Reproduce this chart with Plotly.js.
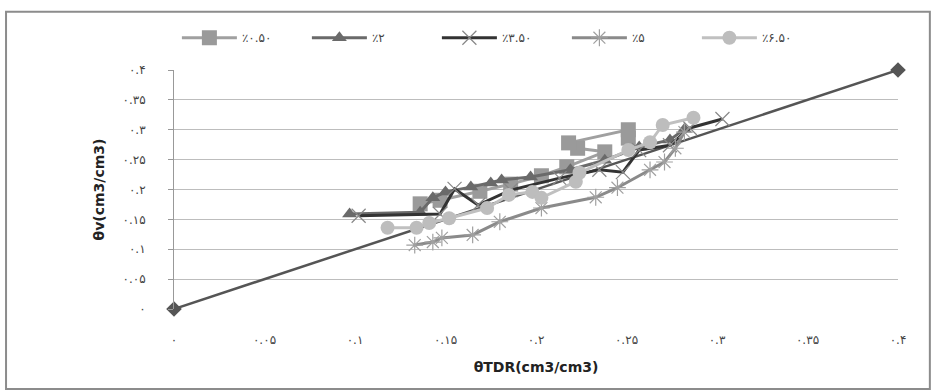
<!DOCTYPE html>
<html>
<head>
<meta charset="utf-8">
<script src="https://cdn.plot.ly/plotly-3.0.1.min.js"></script>
<style>html,body{margin:0;padding:0;background:#fff;}#chart{width:932px;height:390px;}</style>
</head>
<body>
<div id="chart"></div>
<script>
// Series names (legend)
const seriesNames = ["٪۰.۵۰", "٪۲", "٪۳.۵۰", "٪۵", "٪۶.۵۰"];

// θTDR (x) and θv (y) values per series
const x050 = [0.136, 0.147, 0.169, 0.186, 0.203, 0.217, 0.238, 0.223, 0.218, 0.251, 0.251];
const y050 = [0.176, 0.182, 0.197, 0.209, 0.223, 0.238, 0.263, 0.269, 0.278, 0.300, 0.286];

const x2 = [0.097, 0.136, 0.143, 0.150, 0.164, 0.175, 0.181, 0.197, 0.219, 0.238, 0.257, 0.274, 0.282];
const y2 = [0.159, 0.162, 0.186, 0.196, 0.204, 0.211, 0.216, 0.221, 0.233, 0.249, 0.271, 0.283, 0.301];

const x350 = [0.102, 0.147, 0.155, 0.168, 0.186, 0.213, 0.235, 0.248, 0.257, 0.274, 0.285, 0.303];
const y350 = [0.156, 0.159, 0.201, 0.174, 0.199, 0.219, 0.233, 0.229, 0.266, 0.274, 0.303, 0.318];

const x5 = [0.133, 0.143, 0.148, 0.165, 0.180, 0.203, 0.233, 0.245, 0.263, 0.271, 0.277, 0.282];
const y5 = [0.107, 0.112, 0.119, 0.124, 0.146, 0.169, 0.187, 0.203, 0.233, 0.246, 0.269, 0.296];

const x650 = [0.118, 0.134, 0.141, 0.152, 0.173, 0.185, 0.198, 0.203, 0.222, 0.224, 0.251, 0.263, 0.270, 0.287];
const y650 = [0.136, 0.136, 0.144, 0.152, 0.169, 0.191, 0.196, 0.186, 0.213, 0.228, 0.266, 0.279, 0.308, 0.320];

// 1:1 line
const x11 = [0, 0.4];
const y11 = [0, 0.4];

// Axis ticks
const tickVals = [0, 0.05, 0.1, 0.15, 0.2, 0.25, 0.3, 0.35, 0.4];
const tickText = ["۰", "۰.۰۵", "۰.۱", "۰.۱۵", "۰.۲", "۰.۲۵", "۰.۳", "۰.۳۵", "۰.۴"];

const traces = [
  {x: x11, y: y11, mode: "lines+markers", showlegend: false, cliponaxis: false,
   line: {color: "#555555", width: 2.5},
   marker: {symbol: "diamond", size: 12, color: "#555555"}},
  {x: x050, y: y050, name: seriesNames[0], mode: "lines+markers",
   line: {color: "#a0a0a0", width: 3},
   marker: {symbol: "square", size: 15, color: "#9a9a9a"}},
  {x: x2, y: y2, name: seriesNames[1], mode: "lines+markers",
   line: {color: "#6a6a6a", width: 3},
   marker: {symbol: "triangle-up", size: 13, color: "#6a6a6a"}},
  {x: x350, y: y350, name: seriesNames[2], mode: "lines+markers",
   line: {color: "#333333", width: 3},
   marker: {symbol: "x-thin-open", size: 14, color: "#888888", line: {width: 1.2, color: "#888888"}}},
  {x: x5, y: y5, name: seriesNames[3], mode: "lines+markers",
   line: {color: "#8a8a8a", width: 3},
   marker: {symbol: "asterisk-open", size: 14, color: "#a0a0a0", line: {width: 1.2, color: "#a0a0a0"}}},
  {x: x650, y: y650, name: seriesNames[4], mode: "lines+markers",
   line: {color: "#c0c0c0", width: 3},
   marker: {symbol: "circle", size: 14, color: "#bdbdbd"}}
];

const layout = {
  width: 932, height: 390,
  margin: {l: 174, r: 34, t: 70, b: 81},
  paper_bgcolor: "#ffffff", plot_bgcolor: "#ffffff",
  font: {family: "DejaVu Sans", color: "#444444", size: 12},
  showlegend: true,
  legend: {orientation: "h", x: 0.004, y: 1.135, xanchor: "left", yanchor: "middle",
           itemwidth: 55, entrywidth: 60, entrywidthmode: "pixels",
           font: {family: "DejaVu Sans", size: 12, color: "#444444"},
           bgcolor: "rgba(0,0,0,0)"},
  xaxis: {range: [0, 0.4], tickvals: tickVals, ticktext: tickText,
          showgrid: false, zeroline: false, showline: false, ticks: "",
          ticklabelstandoff: 22,
          tickfont: {family: "DejaVu Sans", size: 12, color: "#444444"},
          title: {text: "θTDR(cm3/cm3)", standoff: 16,
                  font: {family: "DejaVu Sans", size: 14, color: "#222222", weight: "bold"}}},
  yaxis: {range: [0, 0.4], tickvals: tickVals, ticktext: tickText,
          showgrid: true, gridcolor: "#bdbdbd", gridwidth: 1,
          zeroline: false, showline: true, linecolor: "#999999", linewidth: 1,
          ticks: "outside", ticklen: 5, tickcolor: "#999999",
          ticklabelstandoff: 20,
          tickfont: {family: "DejaVu Sans", size: 12, color: "#444444"},
          title: {text: "θv(cm3/cm3)", standoff: 14,
                  font: {family: "DejaVu Sans", size: 14, color: "#222222", weight: "bold"}}},
  shapes: [
    {type: "rect", xref: "paper", yref: "paper", x0: -0.232, x1: 1.044, y0: -0.335, y1: 1.244,
     line: {color: "#8c8c8c", width: 2}, fillcolor: "rgba(0,0,0,0)", layer: "below"}
  ]
};

Plotly.newPlot("chart", traces, layout, {displayModeBar: false, staticPlot: true});
</script>
</body>
</html>
